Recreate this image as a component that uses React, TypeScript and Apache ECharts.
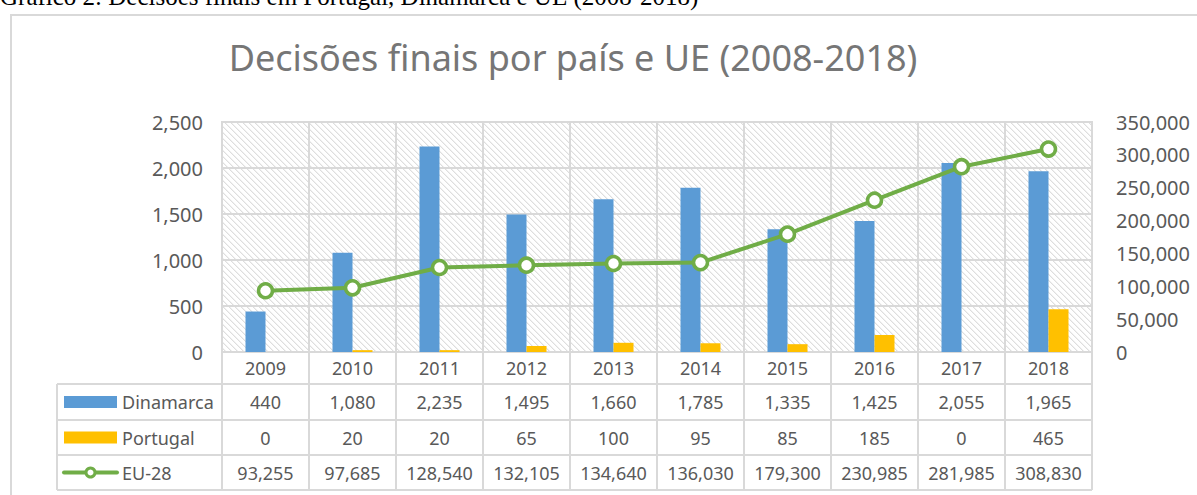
import React, { useEffect, useRef } from "react";
import * as echarts from "echarts";

const years = ["2009", "2010", "2011", "2012", "2013", "2014", "2015", "2016", "2017", "2018"];
const dinamarca = [440, 1080, 2235, 1495, 1660, 1785, 1335, 1425, 2055, 1965];
const portugal = [0, 20, 20, 65, 100, 95, 85, 185, 0, 465];
const eu28 = [93255, 97685, 128540, 132105, 134640, 136030, 179300, 230985, 281985, 308830];
const seriesNames = ["Dinamarca", "Portugal", "EU-28"];
const leftAxis = { min: 0, max: 2500, interval: 500 };
const rightAxis = { min: 0, max: 350000, interval: 50000 };
const chartTitle = "Decisões finais por país e UE (2008-2018)";
const caption = "Gráfico 2: Decisões finais em Portugal, Dinamarca e UE (2008-2018)";

const W = 1197;
const H = 495;
const GL = 222;
const GR = 1092;
const GT = 122;
const GB = 352;
const TL = 57;
const ROWS = [352, 384, 420, 455, 490];
const GRID = "#d9d9d9";
const TXT = "#595959";
const BLUE = "#5B9BD5";
const GOLD = "#FFC000";
const GREEN = "#70AD47";
const FONT = "'Noto Sans', sans-serif";

const fmt = (v: number) => v.toLocaleString("en-US");

function makeHatch() {
  const s = 6;
  const c = document.createElement("canvas");
  c.width = s;
  c.height = s;
  const ctx = c.getContext("2d")!;
  ctx.fillStyle = "#ffffff";
  ctx.fillRect(0, 0, s, s);
  for (let i = 0; i < s; i++) {
    ctx.fillStyle = "#dedede";
    ctx.fillRect(i, i, 1, 1);
    ctx.fillStyle = "#f1f1f1";
    ctx.fillRect((i + 1) % s, i, 1, 1);
  }
  return c.toDataURL();
}

export default function App() {
  const ref = useRef<HTMLDivElement>(null);
  useEffect(() => {
    if (!ref.current) return;
    const chart = echarts.init(ref.current, undefined, { renderer: "svg", width: W, height: H });
    const n = years.length;
    const cw = (GR - GL) / n;
    const graphics: any[] = [];

    graphics.push({
      type: "rect",
      z: -10,
      shape: { x: 11, y: 15, width: 1220, height: 520 },
      style: { fill: "none", stroke: GRID, lineWidth: 2 },
      silent: true,
    });
    graphics.push({
      type: "text",
      x: 0,
      y: 9,
      style: {
        text: caption,
        font: "25px 'Liberation Serif', serif",
        fill: "#000",
        textAlign: "left",
        textVerticalAlign: "bottom",
      },
    });
    graphics.push({
      type: "text",
      x: 573,
      y: 57,
      style: {
        text: chartTitle,
        font: `36px ${FONT}`,
        fill: "#767676",
        textAlign: "center",
        textVerticalAlign: "middle",
      },
    });

    const line = (x1: number, y1: number, x2: number, y2: number) =>
      graphics.push({
        type: "line",
        shape: { x1, y1, x2, y2 },
        style: { stroke: GRID, lineWidth: 2 },
        silent: true,
      });
    for (let r = 1; r < ROWS.length; r++) line(TL, ROWS[r], GR, ROWS[r]);
    line(TL, ROWS[1], TL, ROWS[4]);
    for (let i = 0; i <= n; i++) line(GL + i * cw, ROWS[0], GL + i * cw, ROWS[4]);

    const rowData = [dinamarca, portugal, eu28];
    for (let r = 0; r < 3; r++) {
      const cy = (ROWS[r + 1] + ROWS[r + 2]) / 2;
      if (r < 2) {
        graphics.push({
          type: "rect",
          shape: { x: 64, y: cy - 6, width: 53, height: 12 },
          style: { fill: r === 0 ? BLUE : GOLD },
        });
      } else {
        graphics.push({
          type: "line",
          shape: { x1: 64, y1: cy, x2: 117, y2: cy },
          style: { stroke: GREEN, lineWidth: 4, lineCap: "round" },
        });
        graphics.push({
          type: "circle",
          shape: { cx: 90.5, cy, r: 4.5 },
          style: { fill: "#fff", stroke: GREEN, lineWidth: 3 },
        });
      }
      graphics.push({
        type: "text",
        x: 122,
        y: cy,
        style: {
          text: seriesNames[r],
          font: `18px ${FONT}`,
          fill: TXT,
          textAlign: "left",
          textVerticalAlign: "middle",
        },
      });
      rowData[r].forEach((v, i) => {
        graphics.push({
          type: "text",
          x: GL + (i + 0.5) * cw,
          y: cy,
          style: {
            text: fmt(v),
            font: `18px ${FONT}`,
            fill: TXT,
            textAlign: "center",
            textVerticalAlign: "middle",
          },
        });
      });
    }

    chart.setOption({
      animation: false,
      backgroundColor: "#fff",
      grid: {
        left: GL,
        right: W - GR,
        top: GT,
        bottom: H - GB,
        show: true,
        backgroundColor: { image: makeHatch(), repeat: "repeat", imageWidth: 6, imageHeight: 6 } as any,
        borderColor: GRID,
        borderWidth: 2,
        z: 0,
      },
      xAxis: {
        type: "category",
        data: years,
        boundaryGap: true,
        axisLine: { show: true, lineStyle: { color: GRID, width: 2 } },
        axisTick: { show: false },
        axisLabel: { color: TXT, fontSize: 18, fontFamily: FONT, margin: 7, interval: 0 },
        splitLine: { show: true, interval: 0, lineStyle: { color: GRID, width: 2 } },
      },
      yAxis: [
        {
          type: "value",
          ...leftAxis,
          axisLine: { show: false },
          axisTick: { show: false },
          axisLabel: { color: TXT, fontSize: 20, fontFamily: FONT, margin: 19, formatter: (v: number) => fmt(v) },
          splitLine: { show: true, lineStyle: { color: GRID, width: 2 } },
        },
        {
          type: "value",
          ...rightAxis,
          position: "right",
          axisLine: { show: false },
          axisTick: { show: false },
          axisLabel: {
            color: TXT,
            fontSize: 20,
            fontFamily: FONT,
            margin: 24,
            formatter: (v: number) => fmt(v),
          },
          splitLine: { show: false },
        },
      ],
      series: [
        {
          name: seriesNames[0],
          type: "bar",
          data: dinamarca,
          barWidth: 20,
          barGap: "0%",
          itemStyle: { color: BLUE },
          yAxisIndex: 0,
          z: 2,
        },
        {
          name: seriesNames[1],
          type: "bar",
          data: portugal,
          barWidth: 20,
          barGap: "0%",
          itemStyle: { color: GOLD },
          yAxisIndex: 0,
          z: 2,
        },
        {
          name: seriesNames[2],
          type: "line",
          data: eu28,
          yAxisIndex: 1,
          symbol: "circle",
          symbolSize: 14,
          lineStyle: { color: GREEN, width: 4 },
          itemStyle: { color: "#fff", borderColor: GREEN, borderWidth: 3.5 },
          z: 5,
        },
      ],
      graphic: { elements: graphics },
    });
    return () => chart.dispose();
  }, []);
  return (
    <div
      ref={ref}
      style={{ position: "absolute", left: 0, top: 0, width: W, height: H }}
    />
  );
}
